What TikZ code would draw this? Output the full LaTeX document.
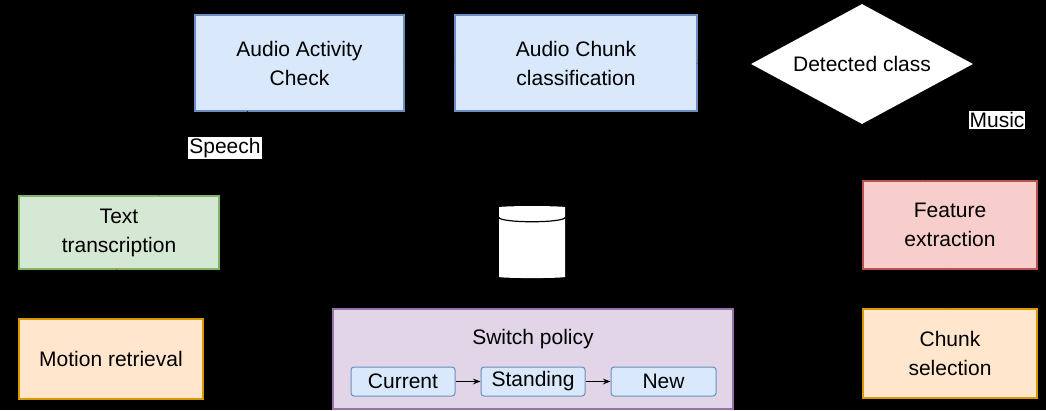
\documentclass[tikz,border=0pt]{standalone}
\usepackage{fontspec}
\setmainfont{Liberation Sans}
\usetikzlibrary{shapes.geometric, arrows.meta, positioning}
\definecolor{bluefill}{HTML}{DAE8FC}\definecolor{blueline}{HTML}{6C8EBF}
\definecolor{greenfill}{HTML}{D5E8D4}\definecolor{greenline}{HTML}{82B366}
\definecolor{orangefill}{HTML}{FFE6CC}\definecolor{orangeline}{HTML}{D79B00}
\definecolor{redfill}{HTML}{F8CECC}\definecolor{redline}{HTML}{B85450}
\definecolor{purplefill}{HTML}{E1D5E7}\definecolor{purpleline}{HTML}{9673A6}
\tikzstyle{stage} = [rectangle, draw, line width=1.2pt, align=center, inner sep=0pt, font=\fontsize{21}{29}\selectfont]
\tikzstyle{state} = [rectangle, rounded corners=3pt, draw=blueline, fill=bluefill, line width=1pt, inner sep=0pt, minimum height=29pt, font=\fontsize{21}{25}\selectfont]
\tikzstyle{tag} = [fill=white, inner sep=1pt, font=\fontsize{21}{25}\selectfont]
\tikzstyle{flow} = [->, >=Stealth, line width=1pt]

\begin{document}
\begin{tikzpicture}[x=1pt, y=-1pt]
  \fill[black] (0,0) rectangle (1046,410);
  \useasboundingbox (0,0) rectangle (1046,410);
  % top row
  \node[stage, draw=blueline, fill=bluefill, minimum width=209pt, minimum height=96pt] (aac) at (299.5,63) {Audio Activity\\Check};
  \node[stage, draw=blueline, fill=bluefill, minimum width=242pt, minimum height=96pt] (acc) at (576,63) {Audio Chunk\\classification};
  \node[diamond, fill=white, minimum width=222pt, minimum height=120pt, inner sep=0pt, aspect=1.85, font=\fontsize{21}{25}\selectfont] (cls) at (862,64) {Detected class};
  % speech branch
  \node[stage, draw=greenline, fill=greenfill, minimum width=200pt, minimum height=73pt] (txt) at (119,232.5) {Text\\transcription};
  \node[stage, draw=orangeline, fill=orangefill, minimum width=184pt, minimum height=80pt] (mot) at (111,359) {Motion retrieval};
  % music branch
  \node[stage, draw=redline, fill=redfill, minimum width=174pt, minimum height=88pt] (feat) at (950,225) {Feature\\extraction};
  \node[stage, draw=orangeline, fill=orangefill, minimum width=174pt, minimum height=89pt] (chunk) at (950,353.5) {Chunk\\selection};
  % database
  \node[cylinder, shape border rotate=90, aspect=0.35, fill=white, minimum width=66pt, minimum height=72pt] (db) at (532,243) {};
  \draw[black, line width=1.2pt] ([yshift=-10pt]db.before top) .. controls +(0,6) and +(0,6) .. ([yshift=-10pt]db.after top);
  % switch policy
  \node[stage, draw=purpleline, fill=purplefill, minimum width=400pt, minimum height=100pt] (sw) at (533,359) {};
  \node[font=\fontsize{21}{25}\selectfont] (swt) at (533,339) {Switch policy};
  \node[state, minimum width=104pt] (cur) at (403,381.5) {Current};
  \node[state, minimum width=104pt] (stand) at (533,381.5) {Standing};
  \node[state, minimum width=105pt] (new) at (663.5,381.5) {New};
  \draw[flow] (cur) -- (stand);
  \draw[flow] (stand) -- (new);
  % connectors (black on black)
  \draw[flow, black] (aac) -- (acc);
  \draw[flow, black] (acc) -- (cls);
  \draw[flow, black] (aac) -- (txt);
  \draw[flow, black] (txt) -- (mot);
  \draw[flow, black] (cls) -- (feat);
  \draw[flow, black] (feat) -- (chunk);
  \node[tag] (speech) at (225,148) {Speech};
  \node[tag] (music) at (997,120) {Music};
\end{tikzpicture}
\end{document}
